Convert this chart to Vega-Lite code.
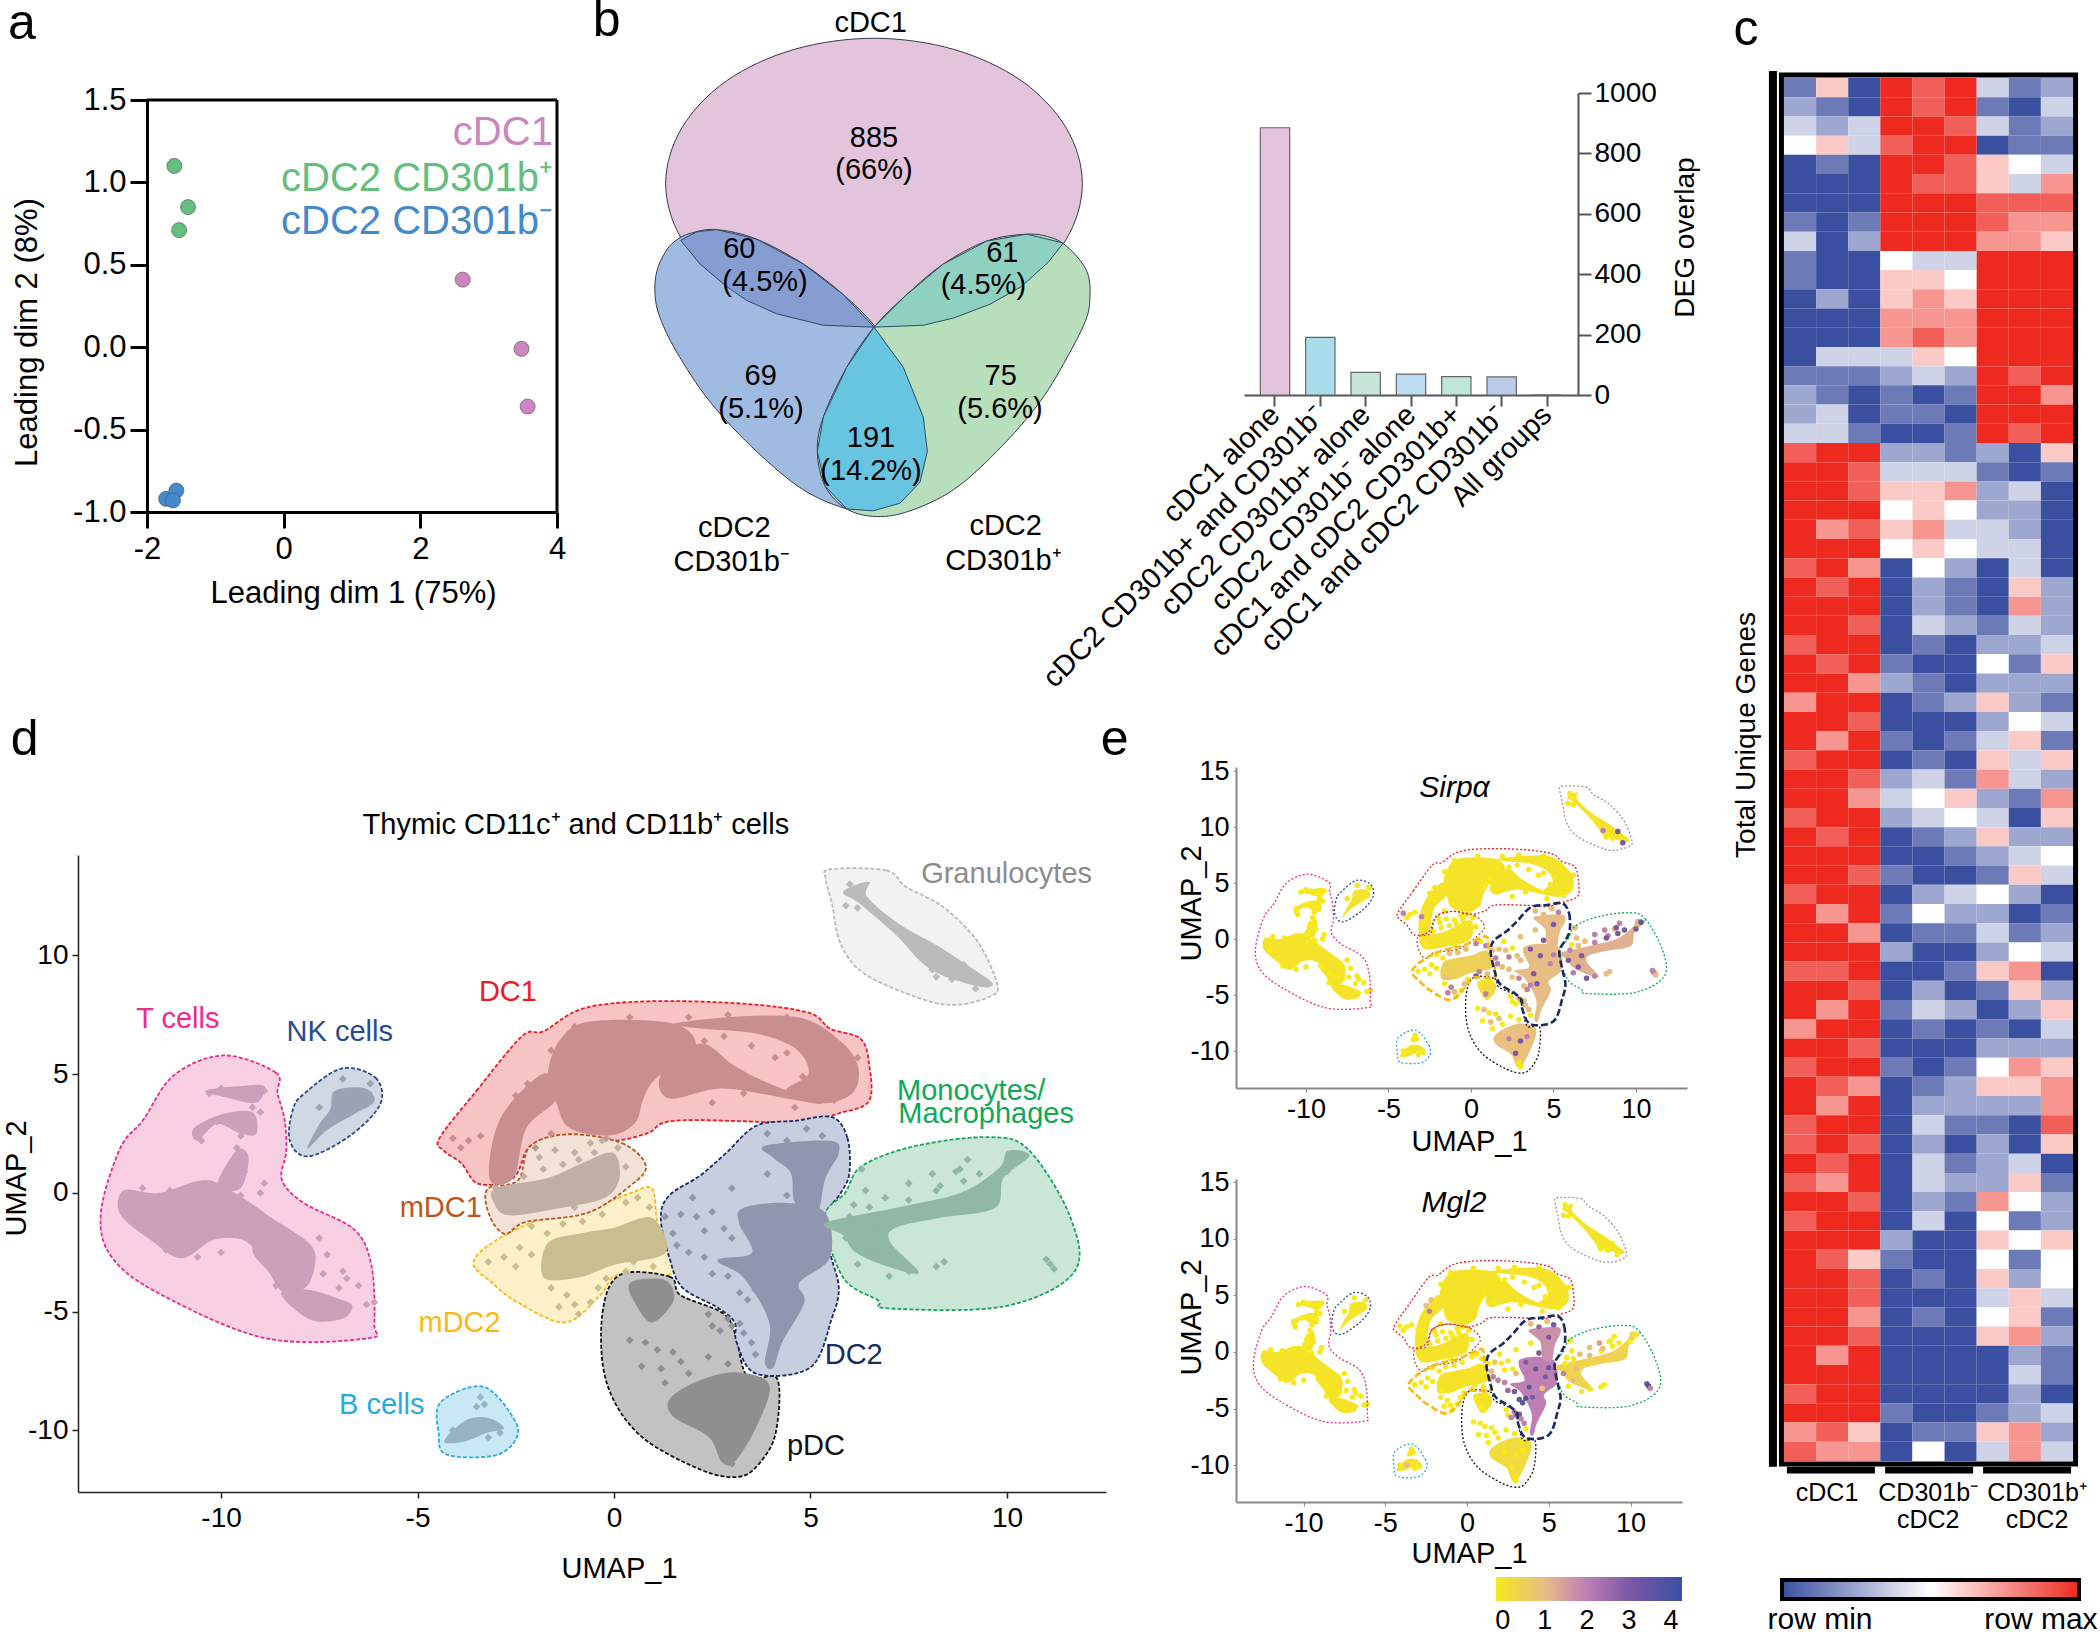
{"$schema":"https://vega.github.io/schema/vega-lite/v6.json","width":2100,"height":1636,"padding":0,"autosize":{"type":"none"},"background":"white",
"config":{"font":"Liberation Sans","view":{"stroke":null},"axis":{"grid":false,"labelFlush":false,"titleFontWeight":"normal","labelColor":"black","titleColor":"black","titleAlign":"center","titleBaseline":"middle"},"legend":{"labelFontWeight":"normal"}},
"datasets":{
"regions":[
{"c":"T","x":-9.93,"y":5.79},{"c":"T","x":-8.61,"y":5.07},{"c":"T","x":-8.56,"y":4.19},{"c":"T","x":-8.38,"y":3.08},{"c":"T","x":-8.34,"y":1.76},{"c":"T","x":-8.45,"y":0.55},{"c":"T","x":-7.88,"y":-0.44},{"c":"T","x":-6.61,"y":-1.54},{"c":"T","x":-6.17,"y":-3.08},{"c":"T","x":-6.1,"y":-5.51},{"c":"T","x":-6.27,"y":-6.12},{"c":"T","x":-8.86,"y":-6.12},{"c":"T","x":-11.5,"y":-4.3},{"c":"T","x":-12.76,"y":-2.75},{"c":"T","x":-13.06,"y":-0.88},{"c":"T","x":-12.57,"y":1.87},{"c":"T","x":-11.98,"y":3.08},{"c":"T","x":-11.2,"y":4.96},
{"c":"NK","x":-6.93,"y":5.24},{"c":"NK","x":-6.07,"y":4.85},{"c":"NK","x":-5.95,"y":3.74},{"c":"NK","x":-6.71,"y":2.42},{"c":"NK","x":-7.78,"y":1.54},{"c":"NK","x":-8.25,"y":2.2},{"c":"NK","x":-8.17,"y":3.52},{"c":"NK","x":-7.88,"y":4.19},
{"c":"DC1","x":-4.44,"y":2.31},{"c":"DC1","x":-3.5,"y":4.3},{"c":"DC1","x":-2.34,"y":6.6},{"c":"DC1","x":-1.79,"y":6.81},{"c":"DC1","x":-0.8,"y":7.76},{"c":"DC1","x":0.86,"y":8.07},{"c":"DC1","x":3.29,"y":7.97},{"c":"DC1","x":4.95,"y":7.59},{"c":"DC1","x":5.5,"y":6.92},{"c":"DC1","x":6.27,"y":6.5},{"c":"DC1","x":6.49,"y":5.45},{"c":"DC1","x":6.49,"y":3.88},{"c":"DC1","x":5.72,"y":3.35},{"c":"DC1","x":4.61,"y":2.89},{"c":"DC1","x":3.95,"y":2.98},{"c":"DC1","x":1.52,"y":3.04},{"c":"DC1","x":0.86,"y":2.52},{"c":"DC1","x":-0.02,"y":2.2},{"c":"DC1","x":-1.13,"y":2.47},{"c":"DC1","x":-2.12,"y":1.99},{"c":"DC1","x":-2.56,"y":0.63},{"c":"DC1","x":-3.44,"y":0.38},{"c":"DC1","x":-3.89,"y":1.26},{"c":"DC1","x":-4.33,"y":1.78},
{"c":"mDC2","x":0.97,"y":0.17},{"c":"mDC2","x":1.11,"y":-1.26},{"c":"mDC2","x":1.47,"y":-2.73},{"c":"mDC2","x":1.36,"y":-3.46},{"c":"mDC2","x":0.09,"y":-3.46},{"c":"mDC2","x":-0.35,"y":-4.3},{"c":"mDC2","x":-1.24,"y":-5.45},{"c":"mDC2","x":-2.45,"y":-4.61},{"c":"mDC2","x":-3.11,"y":-3.77},{"c":"mDC2","x":-3.58,"y":-2.94},{"c":"mDC2","x":-3,"y":-1.99},{"c":"mDC2","x":-1.79,"y":-1.05},{"c":"mDC2","x":-0.57,"y":-0.63},{"c":"mDC2","x":0.42,"y":0},
{"c":"mDC1","x":-1.13,"y":2.47},{"c":"mDC1","x":0.2,"y":2.1},{"c":"mDC1","x":0.81,"y":1.15},{"c":"mDC1","x":0.42,"y":0.31},{"c":"mDC1","x":-0.68,"y":-0.84},{"c":"mDC1","x":-2.23,"y":-1.22},{"c":"mDC1","x":-2.78,"y":-1.72},{"c":"mDC1","x":-3.17,"y":-0.94},{"c":"mDC1","x":-3.22,"y":0.17},{"c":"mDC1","x":-2.45,"y":0.52},{"c":"mDC1","x":-2.12,"y":1.99},
{"c":"pDC","x":0.14,"y":-3.46},{"c":"pDC","x":1.41,"y":-3.52},{"c":"pDC","x":1.69,"y":-4.3},{"c":"pDC","x":2.74,"y":-5.03},{"c":"pDC","x":3.07,"y":-5.87},{"c":"pDC","x":3.4,"y":-7.76},{"c":"pDC","x":4.15,"y":-7.82},{"c":"pDC","x":4.12,"y":-10.06},{"c":"pDC","x":3.73,"y":-11.32},{"c":"pDC","x":3.18,"y":-11.95},{"c":"pDC","x":2.19,"y":-11.64},{"c":"pDC","x":0.64,"y":-10.17},{"c":"pDC","x":-0.19,"y":-7.97},{"c":"pDC","x":-0.3,"y":-5.14},
{"c":"DC2","x":5.55,"y":3.19},{"c":"DC2","x":5.94,"y":2.31},{"c":"DC2","x":5.99,"y":0.84},{"c":"DC2","x":5.77,"y":0},{"c":"DC2","x":5.36,"y":-1.05},{"c":"DC2","x":5.5,"y":-2.52},{"c":"DC2","x":5.72,"y":-3.98},{"c":"DC2","x":5.55,"y":-5.24},{"c":"DC2","x":5,"y":-7.34},{"c":"DC2","x":3.62,"y":-7.61},{"c":"DC2","x":3.12,"y":-6.29},{"c":"DC2","x":3.07,"y":-5.45},{"c":"DC2","x":2.63,"y":-4.82},{"c":"DC2","x":1.74,"y":-3.98},{"c":"DC2","x":1.41,"y":-2.73},{"c":"DC2","x":1.19,"y":-1.05},{"c":"DC2","x":1.41,"y":-0.1},{"c":"DC2","x":2.19,"y":0.73},{"c":"DC2","x":2.85,"y":1.68},{"c":"DC2","x":3.62,"y":2.83},{"c":"DC2","x":4.61,"y":3.04},
{"c":"Mono","x":9.58,"y":2.35},{"c":"Mono","x":10.57,"y":1.78},{"c":"Mono","x":11.62,"y":-1.05},{"c":"Mono","x":11.7,"y":-3.35},{"c":"Mono","x":9.91,"y":-4.78},{"c":"Mono","x":6.99,"y":-4.86},{"c":"Mono","x":6.71,"y":-4.51},{"c":"Mono","x":5.83,"y":-3.56},{"c":"Mono","x":5.36,"y":-1.05},{"c":"Mono","x":5.88,"y":0},{"c":"Mono","x":6.32,"y":1.15},{"c":"Mono","x":7.7,"y":1.99},
{"c":"Gran","x":5.5,"y":13.63},{"c":"Gran","x":6.93,"y":13.58},{"c":"Gran","x":7.43,"y":12.89},{"c":"Gran","x":8.37,"y":12.05},{"c":"Gran","x":9.25,"y":10.59},{"c":"Gran","x":9.75,"y":8.81},{"c":"Gran","x":9.58,"y":8.28},{"c":"Gran","x":8.7,"y":7.92},{"c":"Gran","x":7.81,"y":8.18},{"c":"Gran","x":6.38,"y":9.22},{"c":"Gran","x":5.77,"y":10.48},{"c":"Gran","x":5.55,"y":12.16},{"c":"Gran","x":5.39,"y":13.2},
{"c":"B","x":-3.34,"y":-8.15},{"c":"B","x":-2.56,"y":-9.47},{"c":"B","x":-2.49,"y":-10.35},{"c":"B","x":-3.05,"y":-11.06},{"c":"B","x":-4.27,"y":-11.01},{"c":"B","x":-4.46,"y":-10.13},{"c":"B","x":-4.41,"y":-8.81}],
"core":[
{"p":"T1","c":"T","s":0,"m":0,"x":-12.47,"y":0.11},{"p":"T1","c":"T","x":-11.59,"y":0},{"p":"T1","c":"T","x":-10.42,"y":0.55},{"p":"T1","c":"T","x":-9.64,"y":0},{"p":"T1","c":"T","x":-8.86,"y":-0.88},{"p":"T1","c":"T","x":-8.17,"y":-1.76},{"p":"T1","c":"T","x":-8.42,"y":-2.53},{"p":"T1","c":"T","x":-8.86,"y":-2.75},{"p":"T1","c":"T","x":-9.44,"y":-1.98},{"p":"T1","c":"T","x":-10.2,"y":-1.98},{"p":"T1","c":"T","x":-11,"y":-2.75},{"p":"T1","c":"T","x":-11.79,"y":-1.98},{"p":"T1","c":"T","x":-12.57,"y":-0.88},
{"p":"T2","c":"T","s":0,"m":0,"x":-8.47,"y":-4.19},{"p":"T2","c":"T","x":-7.78,"y":-4.07},{"p":"T2","c":"T","x":-7.1,"y":-4.4},{"p":"T2","c":"T","x":-6.66,"y":-4.74},{"p":"T2","c":"T","x":-6.9,"y":-5.29},{"p":"T2","c":"T","x":-7.59,"y":-5.4},{"p":"T2","c":"T","x":-8.08,"y":-4.96},
{"p":"T3","c":"T","s":0,"m":0,"x":-9,"y":-1},{"p":"T3","c":"T","x":-8,"y":-1.8},{"p":"T3","c":"T","x":-7.6,"y":-2.6},{"p":"T3","c":"T","x":-7.8,"y":-3.9},{"p":"T3","c":"T","x":-8.4,"y":-4.2},{"p":"T3","c":"T","x":-8.8,"y":-3.3},{"p":"T3","c":"T","x":-9.2,"y":-2.4},
{"p":"T4","c":"T","s":0,"m":0,"x":-10.1,"y":0.3},{"p":"T4","c":"T","x":-9.6,"y":1.8},{"p":"T4","c":"T","x":-9.3,"y":1.5},{"p":"T4","c":"T","x":-9.5,"y":0.2},
{"p":"T5","c":"T","s":0,"m":0,"x":-10.7,"y":2.7},{"p":"T5","c":"T","x":-10,"y":3.3},{"p":"T5","c":"T","x":-9.2,"y":3.4},{"p":"T5","c":"T","x":-9.1,"y":2.5},{"p":"T5","c":"T","x":-9.5,"y":2.5},{"p":"T5","c":"T","x":-10.1,"y":2.9},{"p":"T5","c":"T","x":-10.6,"y":2.2},
{"p":"T6","c":"T","s":0,"m":0,"x":-10.4,"y":4.3},{"p":"T6","c":"T","x":-9.5,"y":4.5},{"p":"T6","c":"T","x":-8.9,"y":4.5},{"p":"T6","c":"T","x":-9.1,"y":3.8},{"p":"T6","c":"T","x":-9.8,"y":4},
{"p":"D1","c":"DC1","s":0,"m":0,"x":-0.57,"y":7.23},{"p":"D1","c":"DC1","x":1.52,"y":7.13},{"p":"D1","c":"DC1","x":2.07,"y":6.08},{"p":"D1","c":"DC1","x":1.07,"y":4.82},{"p":"D1","c":"DC1","x":0.75,"y":3.98},{"p":"D1","c":"DC1","x":0.53,"y":2.94},{"p":"D1","c":"DC1","x":-0.13,"y":2.42},{"p":"D1","c":"DC1","x":-1.13,"y":2.74},{"p":"D1","c":"DC1","x":-1.46,"y":3.77},{"p":"D1","c":"DC1","x":-1.68,"y":5.03},{"p":"D1","c":"DC1","x":-1.35,"y":6.5},
{"p":"D2","c":"DC1","s":0,"m":0,"x":1.52,"y":7.13},{"p":"D2","c":"DC1","x":3.29,"y":7.44},{"p":"D2","c":"DC1","x":4.84,"y":7.34},{"p":"D2","c":"DC1","x":5.83,"y":6.29},{"p":"D2","c":"DC1","x":6.22,"y":5.24},{"p":"D2","c":"DC1","x":6.06,"y":4.19},{"p":"D2","c":"DC1","x":5.28,"y":3.77},{"p":"D2","c":"DC1","x":4.39,"y":4.3},{"p":"D2","c":"DC1","x":4.95,"y":5.03},{"p":"D2","c":"DC1","x":4.62,"y":6.08},{"p":"D2","c":"DC1","x":3.62,"y":6.71},{"p":"D2","c":"DC1","x":2.19,"y":6.92},
{"p":"D3","c":"DC1","s":0,"m":0,"x":2.19,"y":6.29},{"p":"D3","c":"DC1","x":3.07,"y":5.35},{"p":"D3","c":"DC1","x":3.95,"y":4.61},{"p":"D3","c":"DC1","x":5.28,"y":3.77},{"p":"D3","c":"DC1","x":4.39,"y":3.98},{"p":"D3","c":"DC1","x":2.74,"y":4.4},{"p":"D3","c":"DC1","x":1.41,"y":3.98},{"p":"D3","c":"DC1","x":1.2,"y":5},
{"p":"D4","c":"DC1","s":0,"m":0,"x":-1.79,"y":5.03},{"p":"D4","c":"DC1","x":-2.89,"y":3.14},{"p":"D4","c":"DC1","x":-3.17,"y":0.63},{"p":"D4","c":"DC1","x":-2.56,"y":0.63},{"p":"D4","c":"DC1","x":-2.23,"y":2.73},{"p":"D4","c":"DC1","x":-1.46,"y":3.98},
{"p":"M1","c":"mDC1","s":0,"m":0,"x":-3,"y":0.21},{"p":"M1","c":"mDC1","x":-1.68,"y":0.63},{"p":"M1","c":"mDC1","x":-0.8,"y":1.26},{"p":"M1","c":"mDC1","x":-0.02,"y":1.68},{"p":"M1","c":"mDC1","x":0.14,"y":0.63},{"p":"M1","c":"mDC1","x":-0.24,"y":-0.21},{"p":"M1","c":"mDC1","x":-1.35,"y":-0.63},{"p":"M1","c":"mDC1","x":-2.67,"y":-0.94},{"p":"M1","c":"mDC1","x":-3.05,"y":-0.42},
{"p":"M2","c":"mDC2","s":0.5,"m":0,"x":-0.02,"y":-1.47},{"p":"M2","c":"mDC2","x":0.97,"y":-1.05},{"p":"M2","c":"mDC2","x":1.31,"y":-2.52},{"p":"M2","c":"mDC2","x":-0.02,"y":-3.04},{"p":"M2","c":"mDC2","x":-0.9,"y":-3.56},{"p":"M2","c":"mDC2","x":-1.79,"y":-3.56},{"p":"M2","c":"mDC2","x":-1.68,"y":-2.1},{"p":"M2","c":"mDC2","x":-0.8,"y":-1.68},
{"p":"C1","c":"DC2","s":1,"m":2,"x":3.29,"y":-0.63},{"p":"C1","c":"DC2","x":4.39,"y":-0.42},{"p":"C1","c":"DC2","x":5.38,"y":-0.84},{"p":"C1","c":"DC2","x":5.49,"y":-2.73},{"p":"C1","c":"DC2","x":4.72,"y":-3.77},{"p":"C1","c":"DC2","x":4.84,"y":-4.61},{"p":"C1","c":"DC2","x":4.28,"y":-6.29},{"p":"C1","c":"DC2","x":4.06,"y":-7.34},{"p":"C1","c":"DC2","x":3.84,"y":-7.13},{"p":"C1","c":"DC2","x":3.95,"y":-5.45},{"p":"C1","c":"DC2","x":3.29,"y":-3.56},{"p":"C1","c":"DC2","x":2.63,"y":-2.83},{"p":"C1","c":"DC2","x":3.51,"y":-2.52},{"p":"C1","c":"DC2","x":3.18,"y":-1.26},
{"p":"C2","c":"DC2","s":1,"m":1.7,"x":3.84,"y":1.99},{"p":"C2","c":"DC2","x":5.49,"y":2.2},{"p":"C2","c":"DC2","x":5.72,"y":1.68},{"p":"C2","c":"DC2","x":5.38,"y":0.63},{"p":"C2","c":"DC2","x":5.16,"y":-0.84},{"p":"C2","c":"DC2","x":4.61,"y":-0.42},{"p":"C2","c":"DC2","x":4.5,"y":0.84},{"p":"C2","c":"DC2","x":4.06,"y":1.47},
{"p":"P1","c":"pDC","s":0.9,"m":0.2,"x":2.07,"y":-7.97},{"p":"P1","c":"pDC","x":3.07,"y":-7.55},{"p":"P1","c":"pDC","x":3.95,"y":-8.07},{"p":"P1","c":"pDC","x":3.62,"y":-9.85},{"p":"P1","c":"pDC","x":3.07,"y":-11.32},{"p":"P1","c":"pDC","x":2.74,"y":-11.32},{"p":"P1","c":"pDC","x":2.41,"y":-10.27},{"p":"P1","c":"pDC","x":1.52,"y":-9.43},{"p":"P1","c":"pDC","x":1.41,"y":-8.7},
{"p":"P2","c":"pDC","s":0.2,"m":0,"x":0.42,"y":-3.77},{"p":"P2","c":"pDC","x":1.3,"y":-3.67},{"p":"P2","c":"pDC","x":1.52,"y":-4.51},{"p":"P2","c":"pDC","x":0.97,"y":-5.45},{"p":"P2","c":"pDC","x":0.53,"y":-4.61},
{"p":"O1","c":"Mono","s":1.2,"m":0.4,"x":5.39,"y":-1.26},{"p":"O1","c":"Mono","x":7.15,"y":-0.63},{"p":"O1","c":"Mono","x":8.81,"y":0},{"p":"O1","c":"Mono","x":9.8,"y":1.05},{"p":"O1","c":"Mono","x":10.02,"y":1.78},{"p":"O1","c":"Mono","x":10.57,"y":1.57},{"p":"O1","c":"Mono","x":9.91,"y":0.63},{"p":"O1","c":"Mono","x":9.69,"y":-0.63},{"p":"O1","c":"Mono","x":8.26,"y":-1.05},{"p":"O1","c":"Mono","x":7.15,"y":-1.47},{"p":"O1","c":"Mono","x":7.04,"y":-2.1},{"p":"O1","c":"Mono","x":7.76,"y":-3.35},{"p":"O1","c":"Mono","x":7.04,"y":-3.14},{"p":"O1","c":"Mono","x":6.16,"y":-2.52},{"p":"O1","c":"Mono","x":5.83,"y":-1.78},
{"p":"G1","c":"Gran","s":0,"m":0,"x":5.83,"y":12.68},{"p":"G1","c":"Gran","x":6.49,"y":13.1},{"p":"G1","c":"Gran","x":6.44,"y":12.47},{"p":"G1","c":"Gran","x":7.26,"y":11.32},{"p":"G1","c":"Gran","x":8.26,"y":10.38},{"p":"G1","c":"Gran","x":9.14,"y":9.43},{"p":"G1","c":"Gran","x":9.64,"y":8.81},{"p":"G1","c":"Gran","x":9.25,"y":8.7},{"p":"G1","c":"Gran","x":8.04,"y":9.43},{"p":"G1","c":"Gran","x":7.15,"y":10.9},{"p":"G1","c":"Gran","x":6.27,"y":12.16},
{"p":"N1","c":"NK","s":0,"m":0,"x":-7.1,"y":4.3},{"p":"N1","c":"NK","x":-6.34,"y":4.41},{"p":"N1","c":"NK","x":-6.1,"y":3.85},{"p":"N1","c":"NK","x":-6.63,"y":3.3},{"p":"N1","c":"NK","x":-7.31,"y":2.64},{"p":"N1","c":"NK","x":-7.8,"y":1.87},{"p":"N1","c":"NK","x":-7.51,"y":2.86},{"p":"N1","c":"NK","x":-7.22,"y":3.52},
{"p":"B1","c":"B","s":0,"m":0,"x":-4.32,"y":-10.46},{"p":"B1","c":"B","x":-3.78,"y":-9.58},{"p":"B1","c":"B","x":-3.19,"y":-9.47},{"p":"B1","c":"B","x":-2.8,"y":-9.91},{"p":"B1","c":"B","x":-3.29,"y":-10.13},{"p":"B1","c":"B","x":-3.78,"y":-10.46}],
"cells":[
{"c":"T","x":-10.3,"y":4.2},{"c":"T","x":-10,"y":4.4},{"c":"T","x":-9.7,"y":4.3},{"c":"T","x":-9.4,"y":4.1},{"c":"T","x":-9.1,"y":4},{"c":"T","x":-8.9,"y":4.3},{"c":"T","x":-9.2,"y":3.6},{"c":"T","x":-9,"y":3.4},{"c":"T","x":-9.8,"y":3.1},{"c":"T","x":-10.1,"y":3},{"c":"T","x":-9.5,"y":3},{"c":"T","x":-9.2,"y":2.9},{"c":"T","x":-10.6,"y":2.7},{"c":"T","x":-10.5,"y":2.2},{"c":"T","x":-9.5,"y":2.4},{"c":"T","x":-9.6,"y":1.9},{"c":"T","x":-9.7,"y":1.4},{"c":"T","x":-9.8,"y":1.1},{"c":"T","x":-9.9,"y":0.7},{"c":"T","x":-10,"y":0.4},{"c":"T","x":-9.4,"y":0.9},{"c":"T","x":-8.9,"y":0.4},{"c":"T","x":-9,"y":0},{"c":"T","x":-9.5,"y":-0.1},{"c":"T","x":-12,"y":0.2},{"c":"T","x":-11.3,"y":0.1},{"c":"T","x":-10.6,"y":0.3},{"c":"T","x":-9.9,"y":-0.3},{"c":"T","x":-12.2,"y":-1},{"c":"T","x":-11.4,"y":-2.4},{"c":"T","x":-10.6,"y":-2.7},{"c":"T","x":-10,"y":-2.5},{"c":"T","x":-9.1,"y":-2.4},{"c":"T","x":-8.6,"y":-3},{"c":"T","x":-8.2,"y":-3.3},{"c":"T","x":-7.9,"y":-2.2},{"c":"T","x":-7.5,"y":-1.9},{"c":"T","x":-7.3,"y":-2.6},{"c":"T","x":-7.8,"y":-3.6},{"c":"T","x":-7.4,"y":-3.4},{"c":"T","x":-6.9,"y":-3.3},{"c":"T","x":-6.5,"y":-3.9},{"c":"T","x":-7,"y":-4},{"c":"T","x":-6.8,"y":-3.6},{"c":"T","x":-6.3,"y":-4.7},{"c":"T","x":-6.1,"y":-4.6},{"c":"T","x":-8.6,"y":-3.9},
{"c":"NK","x":-7.5,"y":3.6},{"c":"NK","x":-6.9,"y":4.8},{"c":"NK","x":-6.2,"y":4.6},
{"c":"B","x":-3.4,"y":-8.6},{"c":"B","x":-3.5,"y":-9},{"c":"B","x":-3.3,"y":-8.9},{"c":"B","x":-4.1,"y":-10},{"c":"B","x":-2.9,"y":-10.1},{"c":"B","x":-3.7,"y":-10,"m":1},{"c":"B","x":-3.2,"y":-10.3},
{"c":"DC1","x":-4.1,"y":2.3,"s":2},{"c":"DC1","x":-3.7,"y":2.2},{"c":"DC1","x":-3.9,"y":1.9},{"c":"DC1","x":-3.4,"y":2.4},{"c":"DC1","x":-3,"y":2,"s":2},{"c":"DC1","x":-2.7,"y":1.9},{"c":"DC1","x":-2.9,"y":1.4},{"c":"DC1","x":-2.5,"y":4.1,"m":1},{"c":"DC1","x":-2.2,"y":4.6,"m":1},{"c":"DC1","x":-1.6,"y":2.5},{"c":"DC1","x":-2,"y":1.9},{"c":"DC1","x":-1.2,"y":3.2},{"c":"DC1","x":-0.2,"y":2.3},{"c":"DC1","x":1.6,"y":6.3},{"c":"DC1","x":2.3,"y":6.4},{"c":"DC1","x":2.8,"y":6.6},{"c":"DC1","x":3.5,"y":6.2},{"c":"DC1","x":4.1,"y":5.7},{"c":"DC1","x":4.4,"y":5.9},{"c":"DC1","x":4.8,"y":4.9},{"c":"DC1","x":5.1,"y":5.6},{"c":"DC1","x":2.5,"y":3.8},{"c":"DC1","x":3.3,"y":4.2},{"c":"DC1","x":4.6,"y":3.6},{"c":"DC1","x":1.1,"y":5.4},{"c":"DC1","x":0.8,"y":4.6},{"c":"DC1","x":1.6,"y":4.5},{"c":"DC1","x":5.6,"y":3.9},{"c":"DC1","x":5.9,"y":4.6},{"c":"DC1","x":6.2,"y":5.7},{"c":"DC1","x":5.4,"y":6.6},{"c":"DC1","x":4.4,"y":7.4},{"c":"DC1","x":2.9,"y":7.5},{"c":"DC1","x":1.9,"y":7.4},{"c":"DC1","x":0.4,"y":7.4},{"c":"DC1","x":-1,"y":7},{"c":"DC1","x":-1.6,"y":6},{"c":"DC1","x":-2.3,"y":3.6,"m":2},
{"c":"mDC1","x":-1.9,"y":1.5},{"c":"mDC1","x":-1.5,"y":1.8},{"c":"mDC1","x":-1,"y":1.7},{"c":"mDC1","x":-0.6,"y":2.1},{"c":"mDC1","x":-0.3,"y":2.2},{"c":"mDC1","x":0.1,"y":1.9},{"c":"mDC1","x":-1.3,"y":1.2},{"c":"mDC1","x":-0.9,"y":1.4},{"c":"mDC1","x":-0.5,"y":1.7},{"c":"mDC1","x":-1.8,"y":1},{"c":"mDC1","x":-2.3,"y":0.7},{"c":"mDC1","x":0.3,"y":1.1},{"c":"mDC1","x":-2.8,"y":-0.4},{"c":"mDC1","x":-3,"y":0.2},{"c":"mDC1","x":-1,"y":-0.6},
{"c":"mDC2","x":-3.2,"y":-2.9},{"c":"mDC2","x":-2.8,"y":-2.7},{"c":"mDC2","x":-2.4,"y":-2.3},{"c":"mDC2","x":-2.1,"y":-2.6},{"c":"mDC2","x":-1.7,"y":-1.7},{"c":"mDC2","x":-2.1,"y":-1.4},{"c":"mDC2","x":-1.3,"y":-1.3,"s":1},{"c":"mDC2","x":-0.8,"y":-1.2,"s":1},{"c":"mDC2","x":-0.3,"y":-0.9,"s":1},{"c":"mDC2","x":0.3,"y":-0.4,"s":2},{"c":"mDC2","x":0.6,"y":-0.2},{"c":"mDC2","x":0.9,"y":-0.6,"s":2},{"c":"mDC2","x":-1.5,"y":-3.4,"s":1},{"c":"mDC2","x":-1.6,"y":-4},{"c":"mDC2","x":-1.2,"y":-4.3,"s":2},{"c":"mDC2","x":-1,"y":-4.7,"s":1},{"c":"mDC2","x":-0.9,"y":-5.1},{"c":"mDC2","x":-1.4,"y":-4.8,"s":2},{"c":"mDC2","x":-0.6,"y":-4.6},{"c":"mDC2","x":-0.4,"y":-4,"s":1},{"c":"mDC2","x":-0.2,"y":-3.6},{"c":"mDC2","x":-2.5,"y":-3.1},{"c":"mDC2","x":0.5,"y":-2.9,"s":2},{"c":"mDC2","x":1,"y":-3.1,"s":1},{"c":"mDC2","x":0.3,"y":-3.3,"s":3},
{"c":"DC2","x":1.3,"y":-1,"s":1},{"c":"DC2","x":1.7,"y":-0.9,"s":1,"m":0.5},{"c":"DC2","x":2.1,"y":-1,"s":1},{"c":"DC2","x":2.5,"y":-0.8},{"c":"DC2","x":1.5,"y":-1.7,"s":2,"m":1},{"c":"DC2","x":1.9,"y":-2.5,"s":1,"m":2},{"c":"DC2","x":2.3,"y":-2.7,"s":1,"m":2},{"c":"DC2","x":1.6,"y":-2.2,"s":2,"m":2},{"c":"DC2","x":2.8,"y":-1.5,"s":1},{"c":"DC2","x":3,"y":-1.9,"s":1,"m":1},{"c":"DC2","x":2.3,"y":-1.6,"s":2},{"c":"DC2","x":2.5,"y":-3.4,"s":1,"m":2.5},{"c":"DC2","x":2.9,"y":-3.5,"s":2,"m":3},{"c":"DC2","x":3.2,"y":-4.2,"s":1,"m":3.5},{"c":"DC2","x":3.4,"y":-4.5,"s":2,"m":3.5},{"c":"DC2","x":3.2,"y":-5.5,"s":1,"m":3},{"c":"DC2","x":3.5,"y":-6.3,"s":1,"m":2},{"c":"DC2","x":3.3,"y":-5.9,"s":1,"m":2},{"c":"DC2","x":3.6,"y":-6.8},{"c":"DC2","x":4,"y":-4,"s":3,"m":3},{"c":"DC2","x":4.6,"y":-3.2,"s":1,"m":1},{"c":"DC2","x":4.8,"y":-2.2,"s":2,"m":3},{"c":"DC2","x":3.9,"y":2.5,"s":1,"m":1},{"c":"DC2","x":4.4,"y":2.2,"s":1,"m":2.5},{"c":"DC2","x":4.9,"y":2.7,"s":1,"m":1},{"c":"DC2","x":5.3,"y":2.4,"s":2,"m":3},{"c":"DC2","x":5,"y":1.3,"s":3,"m":3},{"c":"DC2","x":3.9,"y":0.8,"s":1},{"c":"DC2","x":4.4,"y":-0.1,"s":3,"m":3},{"c":"DC2","x":3.6,"y":-0.9,"s":3,"m":3},{"c":"DC2","x":2,"y":-0.2},{"c":"DC2","x":3,"y":0.2,"s":1},{"c":"DC2","x":4.2,"y":-1.5,"s":3,"m":3.5},{"c":"DC2","x":5,"y":-1.4,"s":2,"m":3.5},{"c":"DC2","x":3.8,"y":-3.1,"s":3,"m":3.5},{"c":"DC2","x":3.6,"y":-4.1,"s":2,"m":3.8},
{"c":"pDC","x":0.6,"y":-4},{"c":"pDC","x":1.2,"y":-3.8},{"c":"pDC","x":0.9,"y":-4.9,"s":2},{"c":"pDC","x":2.4,"y":-5.1},{"c":"pDC","x":2.5,"y":-5.6},{"c":"pDC","x":2.7,"y":-5.8,"m":2},{"c":"pDC","x":2.9,"y":-5.3,"s":1,"m":2},{"c":"pDC","x":3,"y":-5.6,"m":2},{"c":"pDC","x":0.4,"y":-6.2},{"c":"pDC","x":0.8,"y":-6.3,"s":1},{"c":"pDC","x":1.1,"y":-6.6},{"c":"pDC","x":1.5,"y":-6.7},{"c":"pDC","x":1.7,"y":-7.1,"s":1},{"c":"pDC","x":1.9,"y":-7.6},{"c":"pDC","x":1.2,"y":-7.4,"s":1},{"c":"pDC","x":0.7,"y":-7.3},{"c":"pDC","x":2.4,"y":-6.9},{"c":"pDC","x":2.9,"y":-7.2},{"c":"pDC","x":3.4,"y":-7.9,"s":1},{"c":"pDC","x":2.9,"y":-11},{"c":"pDC","x":3,"y":-11.4},{"c":"pDC","x":1.3,"y":-8},{"c":"pDC","x":2.3,"y":-8.9,"s":2},{"c":"pDC","x":3,"y":-9.1,"s":3},{"c":"pDC","x":2.7,"y":-10.2,"s":3},{"c":"pDC","x":3.4,"y":-8.7,"s":2},
{"c":"Mono","x":6.3,"y":1,"s":1},{"c":"Mono","x":6.4,"y":0.1,"s":1},{"c":"Mono","x":6.1,"y":-0.5},{"c":"Mono","x":6,"y":-1,"s":2},{"c":"Mono","x":6.5,"y":-0.6,"s":1},{"c":"Mono","x":6.9,"y":-0.2,"s":1,"m":1},{"c":"Mono","x":7.5,"y":0.4,"s":2,"m":1},{"c":"Mono","x":8.1,"y":0.8,"s":2,"m":1.5},{"c":"Mono","x":8.3,"y":0.3,"s":2,"m":1},{"c":"Mono","x":8.7,"y":0.9,"s":1},{"c":"Mono","x":8.9,"y":0.5,"s":3},{"c":"Mono","x":9,"y":1.4,"s":2},{"c":"Mono","x":8.2,"y":0.1,"s":3},{"c":"Mono","x":9.3,"y":0.8,"s":3},{"c":"Mono","x":7.5,"y":-0.3,"s":2,"m":1},{"c":"Mono","x":10.3,"y":1.5,"s":3.5},{"c":"Mono","x":10,"y":0.9,"s":3},{"c":"Mono","x":8.2,"y":-3.1,"s":1},{"c":"Mono","x":8.4,"y":-2.9,"s":1},{"c":"Mono","x":11,"y":-2.8,"s":2,"m":3},{"c":"Mono","x":11.1,"y":-3,"s":2,"m":4},{"c":"Mono","x":11.2,"y":-3.2,"s":1,"m":2},{"c":"Mono","x":6.5,"y":-2.5,"s":3,"m":1},{"c":"Mono","x":6.2,"y":-3,"s":2},{"c":"Mono","x":7,"y":-3.5,"s":3},{"c":"Mono","x":7.5,"y":-3.3,"s":2},{"c":"Mono","x":8.8,"y":1,"s":3},{"c":"Mono","x":5.9,"y":-1.9,"s":3,"m":2},{"c":"Mono","x":6.7,"y":-1.5,"s":3,"m":1},
{"c":"Gran","x":6,"y":13},{"c":"Gran","x":5.9,"y":12.1},{"c":"Gran","x":6.2,"y":12},{"c":"Gran","x":8,"y":9.7,"s":2},{"c":"Gran","x":8.2,"y":9.1},{"c":"Gran","x":8.4,"y":9.3},{"c":"Gran","x":8.6,"y":9},{"c":"Gran","x":8.1,"y":9.4},{"c":"Gran","x":8.9,"y":9.6,"s":3},{"c":"Gran","x":9.2,"y":8.6,"s":3}],
"heat":[
{"r":0,"c":0,"v":-1.5},{"r":0,"c":1,"v":0.5},{"r":0,"c":2,"v":-2},{"r":0,"c":3,"v":2},{"r":0,"c":4,"v":1.5},{"r":0,"c":5,"v":2},{"r":0,"c":6,"v":-0.5},{"r":0,"c":7,"v":-1.5},{"r":0,"c":8,"v":-1},
{"r":1,"c":0,"v":-1},{"r":1,"c":1,"v":-1.5},{"r":1,"c":2,"v":-2},{"r":1,"c":3,"v":2},{"r":1,"c":4,"v":1.5},{"r":1,"c":5,"v":2},{"r":1,"c":6,"v":-1.5},{"r":1,"c":7,"v":-2},{"r":1,"c":8,"v":-0.5},
{"r":2,"c":0,"v":-0.5},{"r":2,"c":1,"v":-1},{"r":2,"c":2,"v":-0.5},{"r":2,"c":3,"v":2},{"r":2,"c":4,"v":2},{"r":2,"c":5,"v":1.5},{"r":2,"c":6,"v":-0.5},{"r":2,"c":7,"v":-1.5},{"r":2,"c":8,"v":-1},
{"r":3,"c":0,"v":0},{"r":3,"c":1,"v":0.5},{"r":3,"c":2,"v":-0.5},{"r":3,"c":3,"v":1.5},{"r":3,"c":4,"v":2},{"r":3,"c":5,"v":2},{"r":3,"c":6,"v":-2},{"r":3,"c":7,"v":-1.5},{"r":3,"c":8,"v":-1.5},
{"r":4,"c":0,"v":-2},{"r":4,"c":1,"v":-1.5},{"r":4,"c":2,"v":-2},{"r":4,"c":3,"v":2},{"r":4,"c":4,"v":2},{"r":4,"c":5,"v":1.5},{"r":4,"c":6,"v":0.5},{"r":4,"c":7,"v":0},{"r":4,"c":8,"v":-0.5},
{"r":5,"c":0,"v":-2},{"r":5,"c":1,"v":-2},{"r":5,"c":2,"v":-2},{"r":5,"c":3,"v":2},{"r":5,"c":4,"v":1.5},{"r":5,"c":5,"v":1.5},{"r":5,"c":6,"v":0.5},{"r":5,"c":7,"v":-0.5},{"r":5,"c":8,"v":1},
{"r":6,"c":0,"v":-2},{"r":6,"c":1,"v":-2},{"r":6,"c":2,"v":-2},{"r":6,"c":3,"v":2},{"r":6,"c":4,"v":2},{"r":6,"c":5,"v":2},{"r":6,"c":6,"v":1.5},{"r":6,"c":7,"v":1.5},{"r":6,"c":8,"v":1.5},
{"r":7,"c":0,"v":-1.5},{"r":7,"c":1,"v":-2},{"r":7,"c":2,"v":-1.5},{"r":7,"c":3,"v":2},{"r":7,"c":4,"v":2},{"r":7,"c":5,"v":2},{"r":7,"c":6,"v":1.5},{"r":7,"c":7,"v":1},{"r":7,"c":8,"v":1},
{"r":8,"c":0,"v":-0.5},{"r":8,"c":1,"v":-2},{"r":8,"c":2,"v":-1},{"r":8,"c":3,"v":2},{"r":8,"c":4,"v":2},{"r":8,"c":5,"v":2},{"r":8,"c":6,"v":1},{"r":8,"c":7,"v":1},{"r":8,"c":8,"v":0.5},
{"r":9,"c":0,"v":-1.5},{"r":9,"c":1,"v":-2},{"r":9,"c":2,"v":-2},{"r":9,"c":3,"v":0},{"r":9,"c":4,"v":-0.5},{"r":9,"c":5,"v":-0.5},{"r":9,"c":6,"v":2},{"r":9,"c":7,"v":2},{"r":9,"c":8,"v":2},
{"r":10,"c":0,"v":-1.5},{"r":10,"c":1,"v":-2},{"r":10,"c":2,"v":-2},{"r":10,"c":3,"v":0.5},{"r":10,"c":4,"v":0.5},{"r":10,"c":5,"v":0},{"r":10,"c":6,"v":2},{"r":10,"c":7,"v":2},{"r":10,"c":8,"v":2},
{"r":11,"c":0,"v":-2},{"r":11,"c":1,"v":-1},{"r":11,"c":2,"v":-2},{"r":11,"c":3,"v":0.5},{"r":11,"c":4,"v":1},{"r":11,"c":5,"v":0.5},{"r":11,"c":6,"v":2},{"r":11,"c":7,"v":2},{"r":11,"c":8,"v":2},
{"r":12,"c":0,"v":-2},{"r":12,"c":1,"v":-2},{"r":12,"c":2,"v":-2},{"r":12,"c":3,"v":1},{"r":12,"c":4,"v":1},{"r":12,"c":5,"v":1},{"r":12,"c":6,"v":2},{"r":12,"c":7,"v":2},{"r":12,"c":8,"v":2},
{"r":13,"c":0,"v":-2},{"r":13,"c":1,"v":-2},{"r":13,"c":2,"v":-2},{"r":13,"c":3,"v":1},{"r":13,"c":4,"v":1.5},{"r":13,"c":5,"v":1},{"r":13,"c":6,"v":2},{"r":13,"c":7,"v":2},{"r":13,"c":8,"v":2},
{"r":14,"c":0,"v":-2},{"r":14,"c":1,"v":-0.5},{"r":14,"c":2,"v":-0.5},{"r":14,"c":3,"v":-0.5},{"r":14,"c":4,"v":0.5},{"r":14,"c":5,"v":0},{"r":14,"c":6,"v":2},{"r":14,"c":7,"v":2},{"r":14,"c":8,"v":2},
{"r":15,"c":0,"v":-1.5},{"r":15,"c":1,"v":-1.5},{"r":15,"c":2,"v":-1.5},{"r":15,"c":3,"v":-1},{"r":15,"c":4,"v":-0.5},{"r":15,"c":5,"v":-1},{"r":15,"c":6,"v":2},{"r":15,"c":7,"v":1.5},{"r":15,"c":8,"v":2},
{"r":16,"c":0,"v":-1},{"r":16,"c":1,"v":-1.5},{"r":16,"c":2,"v":-2},{"r":16,"c":3,"v":-1.5},{"r":16,"c":4,"v":-2},{"r":16,"c":5,"v":-1.5},{"r":16,"c":6,"v":2},{"r":16,"c":7,"v":2},{"r":16,"c":8,"v":1},
{"r":17,"c":0,"v":-1},{"r":17,"c":1,"v":-0.5},{"r":17,"c":2,"v":-2},{"r":17,"c":3,"v":-1.5},{"r":17,"c":4,"v":-1.5},{"r":17,"c":5,"v":-2},{"r":17,"c":6,"v":2},{"r":17,"c":7,"v":2},{"r":17,"c":8,"v":2},
{"r":18,"c":0,"v":-0.5},{"r":18,"c":1,"v":-0.5},{"r":18,"c":2,"v":-1.5},{"r":18,"c":3,"v":-2},{"r":18,"c":4,"v":-2},{"r":18,"c":5,"v":-1.5},{"r":18,"c":6,"v":2},{"r":18,"c":7,"v":1.5},{"r":18,"c":8,"v":2},
{"r":19,"c":0,"v":1.5},{"r":19,"c":1,"v":2},{"r":19,"c":2,"v":2},{"r":19,"c":3,"v":-1},{"r":19,"c":4,"v":-1},{"r":19,"c":5,"v":-1.5},{"r":19,"c":6,"v":-1},{"r":19,"c":7,"v":-2},{"r":19,"c":8,"v":0.5},
{"r":20,"c":0,"v":2},{"r":20,"c":1,"v":2},{"r":20,"c":2,"v":1.5},{"r":20,"c":3,"v":-0.5},{"r":20,"c":4,"v":-0.5},{"r":20,"c":5,"v":-0.5},{"r":20,"c":6,"v":-1.5},{"r":20,"c":7,"v":-2},{"r":20,"c":8,"v":-1.5},
{"r":21,"c":0,"v":2},{"r":21,"c":1,"v":2},{"r":21,"c":2,"v":1.5},{"r":21,"c":3,"v":0.5},{"r":21,"c":4,"v":0.5},{"r":21,"c":5,"v":1},{"r":21,"c":6,"v":-1},{"r":21,"c":7,"v":-0.5},{"r":21,"c":8,"v":-2},
{"r":22,"c":0,"v":2},{"r":22,"c":1,"v":2},{"r":22,"c":2,"v":2},{"r":22,"c":3,"v":0},{"r":22,"c":4,"v":0.5},{"r":22,"c":5,"v":0},{"r":22,"c":6,"v":-1},{"r":22,"c":7,"v":-1},{"r":22,"c":8,"v":-2},
{"r":23,"c":0,"v":2},{"r":23,"c":1,"v":1},{"r":23,"c":2,"v":1.5},{"r":23,"c":3,"v":0.5},{"r":23,"c":4,"v":1},{"r":23,"c":5,"v":-0.5},{"r":23,"c":6,"v":-0.5},{"r":23,"c":7,"v":-1},{"r":23,"c":8,"v":-2},
{"r":24,"c":0,"v":2},{"r":24,"c":1,"v":2},{"r":24,"c":2,"v":2},{"r":24,"c":3,"v":0},{"r":24,"c":4,"v":0.5},{"r":24,"c":5,"v":0},{"r":24,"c":6,"v":-0.5},{"r":24,"c":7,"v":-0.5},{"r":24,"c":8,"v":-2},
{"r":25,"c":0,"v":1.5},{"r":25,"c":1,"v":2},{"r":25,"c":2,"v":1},{"r":25,"c":3,"v":-2},{"r":25,"c":4,"v":0},{"r":25,"c":5,"v":-1},{"r":25,"c":6,"v":-2},{"r":25,"c":7,"v":-0.5},{"r":25,"c":8,"v":-2},
{"r":26,"c":0,"v":2},{"r":26,"c":1,"v":1.5},{"r":26,"c":2,"v":2},{"r":26,"c":3,"v":-2},{"r":26,"c":4,"v":-1},{"r":26,"c":5,"v":-1.5},{"r":26,"c":6,"v":-2},{"r":26,"c":7,"v":0.5},{"r":26,"c":8,"v":-1},
{"r":27,"c":0,"v":2},{"r":27,"c":1,"v":2},{"r":27,"c":2,"v":2},{"r":27,"c":3,"v":-2},{"r":27,"c":4,"v":-1},{"r":27,"c":5,"v":-1.5},{"r":27,"c":6,"v":-2},{"r":27,"c":7,"v":1},{"r":27,"c":8,"v":-1},
{"r":28,"c":0,"v":2},{"r":28,"c":1,"v":2},{"r":28,"c":2,"v":1.5},{"r":28,"c":3,"v":-2},{"r":28,"c":4,"v":-0.5},{"r":28,"c":5,"v":-1},{"r":28,"c":6,"v":-1.5},{"r":28,"c":7,"v":-0.5},{"r":28,"c":8,"v":-1},
{"r":29,"c":0,"v":1.5},{"r":29,"c":1,"v":2},{"r":29,"c":2,"v":2},{"r":29,"c":3,"v":-2},{"r":29,"c":4,"v":-1.5},{"r":29,"c":5,"v":-2},{"r":29,"c":6,"v":-1},{"r":29,"c":7,"v":-1},{"r":29,"c":8,"v":-0.5},
{"r":30,"c":0,"v":2},{"r":30,"c":1,"v":1.5},{"r":30,"c":2,"v":2},{"r":30,"c":3,"v":-1.5},{"r":30,"c":4,"v":-2},{"r":30,"c":5,"v":-2},{"r":30,"c":6,"v":0},{"r":30,"c":7,"v":-1.5},{"r":30,"c":8,"v":0.5},
{"r":31,"c":0,"v":2},{"r":31,"c":1,"v":2},{"r":31,"c":2,"v":1},{"r":31,"c":3,"v":-1},{"r":31,"c":4,"v":-1.5},{"r":31,"c":5,"v":-2},{"r":31,"c":6,"v":-1},{"r":31,"c":7,"v":-1},{"r":31,"c":8,"v":-1},
{"r":32,"c":0,"v":1},{"r":32,"c":1,"v":2},{"r":32,"c":2,"v":2},{"r":32,"c":3,"v":-2},{"r":32,"c":4,"v":-1.5},{"r":32,"c":5,"v":-1},{"r":32,"c":6,"v":0.5},{"r":32,"c":7,"v":-1},{"r":32,"c":8,"v":-1.5},
{"r":33,"c":0,"v":2},{"r":33,"c":1,"v":2},{"r":33,"c":2,"v":1.5},{"r":33,"c":3,"v":-2},{"r":33,"c":4,"v":-2},{"r":33,"c":5,"v":-2},{"r":33,"c":6,"v":-1},{"r":33,"c":7,"v":0},{"r":33,"c":8,"v":-0.5},
{"r":34,"c":0,"v":2},{"r":34,"c":1,"v":1},{"r":34,"c":2,"v":2},{"r":34,"c":3,"v":-1.5},{"r":34,"c":4,"v":-2},{"r":34,"c":5,"v":-1.5},{"r":34,"c":6,"v":-0.5},{"r":34,"c":7,"v":0.5},{"r":34,"c":8,"v":-1.5},
{"r":35,"c":0,"v":1.5},{"r":35,"c":1,"v":2},{"r":35,"c":2,"v":2},{"r":35,"c":3,"v":-2},{"r":35,"c":4,"v":-1.5},{"r":35,"c":5,"v":-2},{"r":35,"c":6,"v":0.5},{"r":35,"c":7,"v":-0.5},{"r":35,"c":8,"v":0.5},
{"r":36,"c":0,"v":2},{"r":36,"c":1,"v":2},{"r":36,"c":2,"v":1.5},{"r":36,"c":3,"v":-1},{"r":36,"c":4,"v":-0.5},{"r":36,"c":5,"v":-1.5},{"r":36,"c":6,"v":1},{"r":36,"c":7,"v":-0.5},{"r":36,"c":8,"v":-1},
{"r":37,"c":0,"v":2},{"r":37,"c":1,"v":2},{"r":37,"c":2,"v":1},{"r":37,"c":3,"v":-0.5},{"r":37,"c":4,"v":0},{"r":37,"c":5,"v":0.5},{"r":37,"c":6,"v":-1},{"r":37,"c":7,"v":-1.5},{"r":37,"c":8,"v":1},
{"r":38,"c":0,"v":1.5},{"r":38,"c":1,"v":2},{"r":38,"c":2,"v":2},{"r":38,"c":3,"v":-1},{"r":38,"c":4,"v":-0.5},{"r":38,"c":5,"v":0},{"r":38,"c":6,"v":-0.5},{"r":38,"c":7,"v":-2},{"r":38,"c":8,"v":0.5},
{"r":39,"c":0,"v":2},{"r":39,"c":1,"v":1.5},{"r":39,"c":2,"v":2},{"r":39,"c":3,"v":-2},{"r":39,"c":4,"v":-1.5},{"r":39,"c":5,"v":-1},{"r":39,"c":6,"v":0.5},{"r":39,"c":7,"v":-1},{"r":39,"c":8,"v":-1},
{"r":40,"c":0,"v":2},{"r":40,"c":1,"v":2},{"r":40,"c":2,"v":2},{"r":40,"c":3,"v":-2},{"r":40,"c":4,"v":-2},{"r":40,"c":5,"v":-1.5},{"r":40,"c":6,"v":-1},{"r":40,"c":7,"v":-0.5},{"r":40,"c":8,"v":0},
{"r":41,"c":0,"v":2},{"r":41,"c":1,"v":2},{"r":41,"c":2,"v":1.5},{"r":41,"c":3,"v":-1.5},{"r":41,"c":4,"v":-2},{"r":41,"c":5,"v":-2},{"r":41,"c":6,"v":-1.5},{"r":41,"c":7,"v":0.5},{"r":41,"c":8,"v":-0.5},
{"r":42,"c":0,"v":1.5},{"r":42,"c":1,"v":2},{"r":42,"c":2,"v":2},{"r":42,"c":3,"v":-2},{"r":42,"c":4,"v":-1},{"r":42,"c":5,"v":-0.5},{"r":42,"c":6,"v":0},{"r":42,"c":7,"v":-1},{"r":42,"c":8,"v":-2},
{"r":43,"c":0,"v":2},{"r":43,"c":1,"v":1},{"r":43,"c":2,"v":2},{"r":43,"c":3,"v":-1.5},{"r":43,"c":4,"v":0},{"r":43,"c":5,"v":-1},{"r":43,"c":6,"v":-1},{"r":43,"c":7,"v":-2},{"r":43,"c":8,"v":-1.5},
{"r":44,"c":0,"v":2},{"r":44,"c":1,"v":2},{"r":44,"c":2,"v":1},{"r":44,"c":3,"v":-2},{"r":44,"c":4,"v":-1.5},{"r":44,"c":5,"v":-1.5},{"r":44,"c":6,"v":-0.5},{"r":44,"c":7,"v":-1.5},{"r":44,"c":8,"v":-1},
{"r":45,"c":0,"v":2},{"r":45,"c":1,"v":2},{"r":45,"c":2,"v":2},{"r":45,"c":3,"v":-1},{"r":45,"c":4,"v":-2},{"r":45,"c":5,"v":-2},{"r":45,"c":6,"v":-1},{"r":45,"c":7,"v":0},{"r":45,"c":8,"v":-0.5},
{"r":46,"c":0,"v":1.5},{"r":46,"c":1,"v":1.5},{"r":46,"c":2,"v":2},{"r":46,"c":3,"v":-2},{"r":46,"c":4,"v":-2},{"r":46,"c":5,"v":-1.5},{"r":46,"c":6,"v":0.5},{"r":46,"c":7,"v":1},{"r":46,"c":8,"v":-2},
{"r":47,"c":0,"v":2},{"r":47,"c":1,"v":2},{"r":47,"c":2,"v":1.5},{"r":47,"c":3,"v":-2},{"r":47,"c":4,"v":-1},{"r":47,"c":5,"v":-2},{"r":47,"c":6,"v":-1.5},{"r":47,"c":7,"v":0.5},{"r":47,"c":8,"v":-1},
{"r":48,"c":0,"v":2},{"r":48,"c":1,"v":1},{"r":48,"c":2,"v":2},{"r":48,"c":3,"v":-1.5},{"r":48,"c":4,"v":-0.5},{"r":48,"c":5,"v":-1},{"r":48,"c":6,"v":-2},{"r":48,"c":7,"v":-1},{"r":48,"c":8,"v":0.5},
{"r":49,"c":0,"v":1},{"r":49,"c":1,"v":2},{"r":49,"c":2,"v":2},{"r":49,"c":3,"v":-2},{"r":49,"c":4,"v":-1.5},{"r":49,"c":5,"v":-2},{"r":49,"c":6,"v":-1.5},{"r":49,"c":7,"v":-2},{"r":49,"c":8,"v":-0.5},
{"r":50,"c":0,"v":2},{"r":50,"c":1,"v":2},{"r":50,"c":2,"v":1.5},{"r":50,"c":3,"v":-2},{"r":50,"c":4,"v":-2},{"r":50,"c":5,"v":-2},{"r":50,"c":6,"v":-1},{"r":50,"c":7,"v":-1},{"r":50,"c":8,"v":-1},
{"r":51,"c":0,"v":1.5},{"r":51,"c":1,"v":2},{"r":51,"c":2,"v":2},{"r":51,"c":3,"v":-1.5},{"r":51,"c":4,"v":-2},{"r":51,"c":5,"v":-1.5},{"r":51,"c":6,"v":0},{"r":51,"c":7,"v":1},{"r":51,"c":8,"v":0.5},
{"r":52,"c":0,"v":2},{"r":52,"c":1,"v":1.5},{"r":52,"c":2,"v":1},{"r":52,"c":3,"v":-2},{"r":52,"c":4,"v":-1.5},{"r":52,"c":5,"v":-1},{"r":52,"c":6,"v":0.5},{"r":52,"c":7,"v":0.5},{"r":52,"c":8,"v":1},
{"r":53,"c":0,"v":2},{"r":53,"c":1,"v":1},{"r":53,"c":2,"v":2},{"r":53,"c":3,"v":-2},{"r":53,"c":4,"v":-1},{"r":53,"c":5,"v":-1},{"r":53,"c":6,"v":-1},{"r":53,"c":7,"v":-1},{"r":53,"c":8,"v":1},
{"r":54,"c":0,"v":1.5},{"r":54,"c":1,"v":2},{"r":54,"c":2,"v":2},{"r":54,"c":3,"v":-2},{"r":54,"c":4,"v":-0.5},{"r":54,"c":5,"v":-1.5},{"r":54,"c":6,"v":-1.5},{"r":54,"c":7,"v":-2},{"r":54,"c":8,"v":1.5},
{"r":55,"c":0,"v":1.5},{"r":55,"c":1,"v":2},{"r":55,"c":2,"v":1.5},{"r":55,"c":3,"v":-2},{"r":55,"c":4,"v":-1},{"r":55,"c":5,"v":-2},{"r":55,"c":6,"v":-1},{"r":55,"c":7,"v":-2},{"r":55,"c":8,"v":0.5},
{"r":56,"c":0,"v":2},{"r":56,"c":1,"v":1.5},{"r":56,"c":2,"v":2},{"r":56,"c":3,"v":-2},{"r":56,"c":4,"v":-0.5},{"r":56,"c":5,"v":-1.5},{"r":56,"c":6,"v":-1},{"r":56,"c":7,"v":-0.5},{"r":56,"c":8,"v":-2},
{"r":57,"c":0,"v":1.5},{"r":57,"c":1,"v":1},{"r":57,"c":2,"v":2},{"r":57,"c":3,"v":-2},{"r":57,"c":4,"v":-0.5},{"r":57,"c":5,"v":-1},{"r":57,"c":6,"v":-1},{"r":57,"c":7,"v":0.5},{"r":57,"c":8,"v":-1.5},
{"r":58,"c":0,"v":2},{"r":58,"c":1,"v":2},{"r":58,"c":2,"v":1.5},{"r":58,"c":3,"v":-2},{"r":58,"c":4,"v":-1},{"r":58,"c":5,"v":-1.5},{"r":58,"c":6,"v":1},{"r":58,"c":7,"v":0},{"r":58,"c":8,"v":-1},
{"r":59,"c":0,"v":1.5},{"r":59,"c":1,"v":2},{"r":59,"c":2,"v":2},{"r":59,"c":3,"v":-2},{"r":59,"c":4,"v":-0.5},{"r":59,"c":5,"v":-2},{"r":59,"c":6,"v":0},{"r":59,"c":7,"v":-1.5},{"r":59,"c":8,"v":-1},
{"r":60,"c":0,"v":2},{"r":60,"c":1,"v":2},{"r":60,"c":2,"v":2},{"r":60,"c":3,"v":-1},{"r":60,"c":4,"v":-2},{"r":60,"c":5,"v":-2},{"r":60,"c":6,"v":0.5},{"r":60,"c":7,"v":0},{"r":60,"c":8,"v":0.5},
{"r":61,"c":0,"v":2},{"r":61,"c":1,"v":1.5},{"r":61,"c":2,"v":0.5},{"r":61,"c":3,"v":-1.5},{"r":61,"c":4,"v":-2},{"r":61,"c":5,"v":-2},{"r":61,"c":6,"v":0},{"r":61,"c":7,"v":-1.5},{"r":61,"c":8,"v":0},
{"r":62,"c":0,"v":2},{"r":62,"c":1,"v":2},{"r":62,"c":2,"v":1.5},{"r":62,"c":3,"v":-2},{"r":62,"c":4,"v":-1.5},{"r":62,"c":5,"v":-2},{"r":62,"c":6,"v":0.5},{"r":62,"c":7,"v":-1},{"r":62,"c":8,"v":0},
{"r":63,"c":0,"v":2},{"r":63,"c":1,"v":2},{"r":63,"c":2,"v":1.5},{"r":63,"c":3,"v":-2},{"r":63,"c":4,"v":-2},{"r":63,"c":5,"v":-2},{"r":63,"c":6,"v":-0.5},{"r":63,"c":7,"v":0.5},{"r":63,"c":8,"v":-0.5},
{"r":64,"c":0,"v":2},{"r":64,"c":1,"v":2},{"r":64,"c":2,"v":1},{"r":64,"c":3,"v":-2},{"r":64,"c":4,"v":-1.5},{"r":64,"c":5,"v":-2},{"r":64,"c":6,"v":0},{"r":64,"c":7,"v":0.5},{"r":64,"c":8,"v":-1.5},
{"r":65,"c":0,"v":2},{"r":65,"c":1,"v":2},{"r":65,"c":2,"v":1.5},{"r":65,"c":3,"v":-2},{"r":65,"c":4,"v":-2},{"r":65,"c":5,"v":-2},{"r":65,"c":6,"v":0.5},{"r":65,"c":7,"v":1},{"r":65,"c":8,"v":-1},
{"r":66,"c":0,"v":2},{"r":66,"c":1,"v":1},{"r":66,"c":2,"v":2},{"r":66,"c":3,"v":-2},{"r":66,"c":4,"v":-2},{"r":66,"c":5,"v":-2},{"r":66,"c":6,"v":-2},{"r":66,"c":7,"v":-1},{"r":66,"c":8,"v":-1.5},
{"r":67,"c":0,"v":2},{"r":67,"c":1,"v":2},{"r":67,"c":2,"v":2},{"r":67,"c":3,"v":-2},{"r":67,"c":4,"v":-2},{"r":67,"c":5,"v":-2},{"r":67,"c":6,"v":-2},{"r":67,"c":7,"v":-0.5},{"r":67,"c":8,"v":-1.5},
{"r":68,"c":0,"v":1.5},{"r":68,"c":1,"v":2},{"r":68,"c":2,"v":2},{"r":68,"c":3,"v":-2},{"r":68,"c":4,"v":-2},{"r":68,"c":5,"v":-2},{"r":68,"c":6,"v":-2},{"r":68,"c":7,"v":-1},{"r":68,"c":8,"v":-2},
{"r":69,"c":0,"v":2},{"r":69,"c":1,"v":2},{"r":69,"c":2,"v":2},{"r":69,"c":3,"v":-1.5},{"r":69,"c":4,"v":-2},{"r":69,"c":5,"v":-2},{"r":69,"c":6,"v":-1.5},{"r":69,"c":7,"v":-1},{"r":69,"c":8,"v":-0.5},
{"r":70,"c":0,"v":1},{"r":70,"c":1,"v":1.5},{"r":70,"c":2,"v":0.5},{"r":70,"c":3,"v":-2},{"r":70,"c":4,"v":-1.5},{"r":70,"c":5,"v":-1.5},{"r":70,"c":6,"v":0.5},{"r":70,"c":7,"v":1},{"r":70,"c":8,"v":-1},
{"r":71,"c":0,"v":1.5},{"r":71,"c":1,"v":1},{"r":71,"c":2,"v":1},{"r":71,"c":3,"v":-2},{"r":71,"c":4,"v":0},{"r":71,"c":5,"v":-2},{"r":71,"c":6,"v":-0.5},{"r":71,"c":7,"v":1},{"r":71,"c":8,"v":-0.5}]
},
"resolve":{"scale":{"x":"independent","y":"independent","color":"independent","fill":"independent","stroke":"independent"},"axis":{"x":"independent","y":"independent"},"legend":{"color":"independent","fill":"independent","stroke":"independent"}},
"layer":[
{"encoding":{"x":{"field":"x","type":"quantitative","scale":{"domain":[-2,4],"range":[147,557]},"axis":{"orient":"bottom","offset":-1124,"values":[-2,0,2,4],"domainWidth":3,"domainColor":"black","tickWidth":3,"tickColor":"black","tickSize":16,"labelFontSize":31,"labelPadding":6,"labelExpr":"replace(datum.label,'−','-')","title":"Leading dim 1 (75%)","titleFontSize":31,"titleX":353,"titleY":81}},
"y":{"field":"y","type":"quantitative","scale":{"domain":[-1,1.5],"range":[512,100]},"axis":{"orient":"left","offset":-147,"values":[-1,-0.5,0,0.5,1,1.5],"format":".1f","domainWidth":3,"domainColor":"black","tickWidth":3,"tickColor":"black","tickSize":17,"labelFontSize":31,"labelPadding":4,"labelExpr":"replace(datum.label,'−','-')","title":"Leading dim 2 (8%)","titleFontSize":31,"titleAngle":270,"titleX":-120,"titleY":332}}},
"layer":[
{"data":{"values":[{"x":-2,"x2":4,"y":1.5},{"x":4,"y":1.5,"y2":-1}]},"mark":{"type":"rule","strokeWidth":3,"color":"black"},"encoding":{"x2":{"field":"x2"},"y2":{"field":"y2"}}},
{"data":{"values":[{"c":"cDC1","x":2.62,"y":0.41},{"c":"cDC1","x":3.48,"y":-0.01},{"c":"cDC1","x":3.57,"y":-0.36},{"c":"p","x":-1.6,"y":1.1},{"c":"p","x":-1.4,"y":0.85},{"c":"p","x":-1.53,"y":0.71},{"c":"m","x":-1.72,"y":-0.92},{"c":"m","x":-1.57,"y":-0.87},{"c":"m","x":-1.62,"y":-0.93}]},"mark":{"type":"circle","size":230,"opacity":1,"stroke":"#444","strokeWidth":0.5},"encoding":{"color":{"field":"c","type":"nominal","scale":{"domain":["cDC1","p","m"],"range":["#CC85BE","#64BE7D","#4389CC"]},"legend":null}}},
{"data":{"values":[{"c":"cDC1","x":3.94,"y":1.3,"t":"cDC1"},{"c":"p","x":3.94,"y":1.02,"t":"cDC2 CD301b⁺"},{"c":"m","x":3.94,"y":0.76,"t":"cDC2 CD301b⁻"}]},"mark":{"type":"text","fontSize":40,"align":"right"},"encoding":{"text":{"field":"t"},"color":{"field":"c","type":"nominal","scale":{"domain":["cDC1","p","m"],"range":["#CC85BE","#64BE7D","#4389CC"]},"legend":null}}},
{"data":{"values":[{"x":-3.83,"y":1.96,"t":"a"}]},"mark":{"type":"text","fontSize":50,"color":"black"},"encoding":{"text":{"field":"t"}}}
]},
{"resolve":{"scale":{"fill":"independent"}},"encoding":{"x":{"field":"x","type":"quantitative","scale":{"domain":[0,1560],"range":[590,1110]},"axis":null},"y":{"field":"y","type":"quantitative","scale":{"domain":[0,1568],"range":[0,600]},"axis":null}},
"layer":[
{"data":{"values":[
{"c":"cDC1","x":1477,"y":480},{"c":"cDC1","x":1429,"y":625},{"c":"cDC1","x":1294,"y":749},{"c":"cDC1","x":1091,"y":831},{"c":"cDC1","x":852,"y":860},{"c":"cDC1","x":613,"y":831},{"c":"cDC1","x":410,"y":749},{"c":"cDC1","x":275,"y":625},{"c":"cDC1","x":227,"y":480},{"c":"cDC1","x":275,"y":335},{"c":"cDC1","x":410,"y":211},{"c":"cDC1","x":613,"y":129},{"c":"cDC1","x":852,"y":100},{"c":"cDC1","x":1091,"y":129},{"c":"cDC1","x":1294,"y":211},{"c":"cDC1","x":1429,"y":335},
{"c":"neg","x":195,"y":770},{"c":"neg","x":200,"y":710},{"c":"neg","x":225,"y":660},{"c":"neg","x":255,"y":630},{"c":"neg","x":300,"y":610},{"c":"neg","x":380,"y":600},{"c":"neg","x":500,"y":625},{"c":"neg","x":640,"y":690},{"c":"neg","x":760,"y":770},{"c":"neg","x":852,"y":850},{"c":"neg","x":940,"y":960},{"c":"neg","x":1000,"y":1090},{"c":"neg","x":1012,"y":1180},{"c":"neg","x":990,"y":1260},{"c":"neg","x":930,"y":1315},{"c":"neg","x":850,"y":1335},{"c":"neg","x":770,"y":1330},{"c":"neg","x":640,"y":1280},{"c":"neg","x":500,"y":1180},{"c":"neg","x":360,"y":1050},{"c":"neg","x":260,"y":920},{"c":"neg","x":210,"y":830},
{"c":"pos","x":1500,"y":770},{"c":"pos","x":1495,"y":720},{"c":"pos","x":1470,"y":680},{"c":"pos","x":1425,"y":640},{"c":"pos","x":1380,"y":620},{"c":"pos","x":1310,"y":612},{"c":"pos","x":1190,"y":630},{"c":"pos","x":1060,"y":690},{"c":"pos","x":950,"y":770},{"c":"pos","x":852,"y":855},{"c":"pos","x":770,"y":960},{"c":"pos","x":700,"y":1090},{"c":"pos","x":682,"y":1180},{"c":"pos","x":705,"y":1270},{"c":"pos","x":770,"y":1330},{"c":"pos","x":860,"y":1350},{"c":"pos","x":960,"y":1335},{"c":"pos","x":1090,"y":1280},{"c":"pos","x":1220,"y":1180},{"c":"pos","x":1350,"y":1050},{"c":"pos","x":1440,"y":920},{"c":"pos","x":1490,"y":830}]},
"mark":{"type":"line","interpolate":"cardinal-closed","order":null,"stroke":"#3a3a4a","strokeWidth":1},"encoding":{"fill":{"field":"c","type":"nominal","scale":{"domain":["cDC1","neg","pos"],"range":["#E4C3DC","#A0BBE2","#B7DFBC"]},"legend":null}}},
{"data":{"values":[
{"c":"a","x":272,"y":628},{"c":"a","x":320,"y":606},{"c":"a","x":380,"y":600},{"c":"a","x":500,"y":625},{"c":"a","x":640,"y":690},{"c":"a","x":760,"y":770},{"c":"a","x":852,"y":855},{"c":"a","x":700,"y":850},{"c":"a","x":560,"y":820},{"c":"a","x":470,"y":785},{"c":"a","x":410,"y":749},{"c":"a","x":330,"y":690},
{"c":"b","x":1420,"y":635},{"c":"b","x":1310,"y":612},{"c":"b","x":1190,"y":630},{"c":"b","x":1060,"y":690},{"c":"b","x":950,"y":770},{"c":"b","x":852,"y":855},{"c":"b","x":1000,"y":850},{"c":"b","x":1091,"y":831},{"c":"b","x":1200,"y":795},{"c":"b","x":1294,"y":749},{"c":"b","x":1375,"y":685},
{"c":"d","x":852,"y":855},{"c":"d","x":940,"y":960},{"c":"d","x":1000,"y":1090},{"c":"d","x":1012,"y":1180},{"c":"d","x":990,"y":1260},{"c":"d","x":930,"y":1315},{"c":"d","x":850,"y":1335},{"c":"d","x":770,"y":1330},{"c":"d","x":705,"y":1270},{"c":"d","x":682,"y":1180},{"c":"d","x":700,"y":1090},{"c":"d","x":770,"y":960}]},
"mark":{"type":"line","interpolate":"linear-closed","order":null,"stroke":"#2a4a6a","strokeWidth":1},"encoding":{"fill":{"field":"c","type":"nominal","scale":{"domain":["a","b","d"],"range":["#859DD0","#8FD1C0","#68C5E2"]},"legend":null}}},
{"data":{"values":[{"x":852,"y":360,"t":"885"},{"x":852,"y":443,"t":"(66%)"},{"x":448,"y":652,"t":"60"},{"x":525,"y":738,"t":"(4.5%)"},{"x":1237,"y":662,"t":"61"},{"x":1180,"y":745,"t":"(4.5%)"},{"x":512,"y":982,"t":"69"},{"x":513,"y":1068,"t":"(5.1%)"},{"x":1232,"y":982,"t":"75"},{"x":1230,"y":1068,"t":"(5.6%)"},{"x":843,"y":1145,"t":"191"},{"x":843,"y":1230,"t":"(14.2%)"},{"x":842,"y":60,"t":"cDC1"},{"x":433,"y":1380,"t":"cDC2"},{"x":425,"y":1468,"t":"CD301b⁻"},{"x":1247,"y":1375,"t":"cDC2"},{"x":1240,"y":1465,"t":"CD301b⁺"}]},"mark":{"type":"text","fontSize":29,"color":"black"},"encoding":{"text":{"field":"t"}}},
{"data":{"values":[{"x":50,"y":55,"t":"b"}]},"mark":{"type":"text","fontSize":50,"color":"black"},"encoding":{"text":{"field":"t"}}}
]},
{"data":{"values":[{"x":"cDC1 alone","y":885},{"x":"cDC2 CD301b+ and CD301b⁻","y":191},{"x":"cDC2 CD301b+ alone","y":75},{"x":"cDC2 CD301b⁻ alone","y":69},{"x":"cDC1 and cDC2 CD301b+","y":61},{"x":"cDC1 and cDC2 CD301b⁻","y":60},{"x":"All groups","y":0}]},
"mark":{"type":"bar","stroke":"#666666","strokeWidth":1.2},
"encoding":{"x":{"field":"x","type":"nominal","sort":null,"scale":{"range":[1244,1578],"paddingInner":0.353,"paddingOuter":0.36},"axis":{"orient":"bottom","offset":-1241,"domainColor":"#555","domainWidth":2,"tickColor":"#555","tickWidth":2,"tickSize":11,"labelFontSize":29,"labelAngle":-45,"labelAlign":"right","labelBaseline":"middle","labelPadding":4,"labelLimit":1000,"title":null}},
"y":{"field":"y","type":"quantitative","stack":null,"scale":{"domain":[0,1000],"range":[395,93]},"axis":{"orient":"right","offset":-522,"values":[0,200,400,600,800,1000],"format":"d","domainColor":"#555","domainWidth":2,"tickColor":"#555","tickWidth":2,"tickSize":13,"labelFontSize":28,"labelPadding":3,"title":"DEG overlap","titleFontSize":28,"titleAngle":270,"titleX":107,"titleY":237}},
"color":{"field":"x","type":"nominal","sort":null,"scale":{"range":["#E4C3DC","#A8DEEC","#C8E6D8","#BEDDF3","#BFE6D8","#BCCBE8","#FFFFFF"]},"legend":null}}},
{"data":{"name":"heat"},"mark":{"type":"rect"},
"encoding":{"x":{"field":"c","type":"ordinal","scale":{"range":[1784,2073],"paddingInner":0,"paddingOuter":0},"axis":null},"y":{"field":"r","type":"ordinal","scale":{"range":[78,1461],"paddingInner":0,"paddingOuter":0},"axis":null},
"color":{"field":"v","type":"quantitative","scale":{"domain":[-2,0,2],"range":["#3B4FA0","#FFFFFF","#EE2A20"],"interpolate":"rgb"},"legend":{"orient":"none","legendX":1782,"legendY":1580,"direction":"horizontal","gradientLength":297,"gradientThickness":19,"gradientStrokeColor":"black","gradientStrokeWidth":4,"title":null,"labelOpacity":0,"tickCount":2}}}},
{"encoding":{"x":{"field":"x","type":"quantitative","scale":{"domain":[0,9],"range":[1784,2073]},"axis":null},"y":{"field":"y","type":"quantitative","scale":{"domain":[0,72],"range":[78,1461]},"axis":null}},
"layer":[
{"data":{"values":[{"x":-0.08,"x2":9.08,"y":-0.15,"y2":72.15}]},"mark":{"type":"rect","fill":"transparent","stroke":"black","strokeWidth":5},"encoding":{"x2":{"field":"x2"},"y2":{"field":"y2"}}},
{"data":{"values":[{"x":-0.47,"x2":-0.22,"y":-0.37,"y2":72.3},{"x":0.09,"x2":2.83,"y":72.3,"y2":72.65},{"x":3.15,"x2":5.89,"y":72.3,"y2":72.65},{"x":6.2,"x2":8.94,"y":72.3,"y2":72.65}]},"mark":{"type":"rect","color":"black"},"encoding":{"x2":{"field":"x2"},"y2":{"field":"y2"}}},
{"data":{"values":[{"x":1.34,"y":73.65,"t":"cDC1"},{"x":4.49,"y":73.65,"t":"CD301b⁻"},{"x":4.49,"y":75.05,"t":"cDC2"},{"x":7.88,"y":73.65,"t":"CD301b⁺"},{"x":7.88,"y":75.05,"t":"cDC2"}]},"mark":{"type":"text","fontSize":25,"color":"black"},"encoding":{"text":{"field":"t"}}},
{"data":{"values":[{"x":1.12,"y":80.26,"t":"row min"},{"x":8,"y":80.26,"t":"row max"}]},"mark":{"type":"text","fontSize":30,"color":"black"},"encoding":{"text":{"field":"t"}}},
{"data":{"values":[{"x":-1.15,"y":34.2,"t":"Total Unique Genes"}]},"mark":{"type":"text","fontSize":28,"angle":270,"color":"black"},"encoding":{"text":{"field":"t"}}},
{"data":{"values":[{"x":-1.18,"y":-2.5,"t":"c"}]},"mark":{"type":"text","fontSize":50,"color":"black"},"encoding":{"text":{"field":"t"}}}
]},
{"resolve":{"scale":{"fill":"independent"}},
"encoding":{"x":{"field":"x","type":"quantitative","scale":{"domain":[-13.64,12.52],"range":[78,1106]},"axis":{"orient":"bottom","offset":-144,"values":[-10,-5,0,5,10],"domainColor":"#222","domainWidth":1.5,"tickColor":"#222","tickWidth":1.5,"tickSize":6,"labelFontSize":28,"labelPadding":6,"labelExpr":"replace(datum.label,'−','-')","title":"UMAP_1","titleFontSize":29,"titleX":619,"titleY":76}},
"y":{"field":"y","type":"quantitative","scale":{"domain":[-12.59,14.23],"range":[1492,855]},"axis":{"orient":"left","offset":-78,"values":[-10,-5,0,5,10],"domainColor":"#222","domainWidth":1.5,"tickColor":"#222","tickWidth":1.5,"tickSize":6,"labelFontSize":28,"labelPadding":4,"labelExpr":"replace(datum.label,'−','-')","title":"UMAP_2","titleFontSize":29,"titleAngle":270,"titleX":-62,"titleY":1178}}},
"layer":[
{"data":{"name":"regions"},"mark":{"type":"line","interpolate":"cardinal-closed","order":null,"strokeWidth":1.8,"strokeDash":[4,2]},"encoding":{"fill":{"field":"c","type":"nominal","scale":{"domain":["T","NK","DC1","mDC2","mDC1","pDC","DC2","Mono","Gran","B"],"range":["#F9D0E3","#D0D8E4","#F9C4C6","#FEF0C8","#F3E2D8","#C2C2C2","#C6CEDF","#C9E6D7","#F2F2F2","#C8E8F5"]},"legend":null},"stroke":{"field":"c","type":"nominal","scale":{"domain":["T","NK","DC1","mDC2","mDC1","pDC","DC2","Mono","Gran","B"],"range":["#EE2A8B","#2B4B8F","#ED1C24","#FDB813","#C0561B","#111111","#1A2A66","#0FA958","#BBBBBB","#29ABE2"]},"legend":null}}},
{"data":{"name":"core"},"mark":{"type":"line","interpolate":"cardinal-closed","order":null,"strokeWidth":0},"encoding":{"detail":{"field":"p"},"fill":{"field":"c","type":"nominal","scale":{"domain":["T","NK","DC1","mDC2","mDC1","pDC","DC2","Mono","Gran","B"],"range":["#CBA0B9","#9AA4B4","#C98F90","#CABD8F","#BFAFA4","#8F8F8F","#8F97AE","#90B8A4","#BBBBBB","#95B4C2"]},"legend":null}}},
{"data":{"name":"cells"},"mark":{"type":"point","filled":true,"shape":"diamond","size":60,"opacity":1},"encoding":{"fill":{"field":"c","type":"nominal","scale":{"domain":["T","NK","DC1","mDC2","mDC1","pDC","DC2","Mono","Gran","B"],"range":["#CBA0B9","#9AA4B4","#C98F90","#CABD8F","#BFAFA4","#8F8F8F","#8F97AE","#90B8A4","#BBBBBB","#95B4C2"]},"legend":null}}},
{"data":{"values":[{"c":"T","x":-11.1,"y":7.31,"t":"T cells"},{"c":"NK","x":-6.98,"y":6.76,"t":"NK cells"},{"c":"DC1","x":-2.7,"y":8.48,"t":"DC1"},{"c":"mDC1","x":-4.41,"y":-0.62,"t":"mDC1"},{"c":"mDC2","x":-3.93,"y":-5.46,"t":"mDC2"},{"c":"B","x":-5.91,"y":-8.92,"t":"B cells"},{"c":"Gran","x":9.99,"y":13.42,"t":"Granulocytes"},{"c":"Mono","x":9.09,"y":4.3,"t":"Monocytes/"},{"c":"Mono","x":9.47,"y":3.31,"t":"Macrophages"},{"c":"DC2","x":6.1,"y":-6.81,"t":"DC2"},{"c":"pDC","x":5.14,"y":-10.65,"t":"pDC"}]},"mark":{"type":"text","fontSize":29},"encoding":{"text":{"field":"t"},"color":{"field":"c","type":"nominal","scale":{"domain":["T","NK","DC1","mDC2","mDC1","pDC","DC2","Mono","Gran","B"],"range":["#EE2A8B","#2B4B8F","#ED1C24","#FDB813","#C0561B","#111111","#1A2A66","#0FA958","#8C8C8C","#29ABE2"]},"legend":null}}},
{"data":{"values":[{"x":-0.97,"y":15.5,"t":"Thymic CD11c⁺ and CD11b⁺ cells"}]},"mark":{"type":"text","fontSize":29,"color":"black"},"encoding":{"text":{"field":"t"}}},
{"data":{"values":[{"x":-15,"y":19.07,"t":"d"}]},"mark":{"type":"text","fontSize":50,"color":"black"},"encoding":{"text":{"field":"t"}}}
]},
{"encoding":{"x":{"field":"x","type":"quantitative","scale":{"domain":[-14.24,13.09],"range":[1236,1687]},"axis":{"orient":"bottom","offset":-548,"values":[-10,-5,0,5,10],"domainColor":"#888","domainWidth":2,"tickColor":"#888","tickSize":4,"labelFontSize":27,"labelPadding":4,"labelExpr":"replace(datum.label,'−','-')","title":"UMAP_1","titleFontSize":29,"titleX":1469,"titleY":53}},
"y":{"field":"y","type":"quantitative","scale":{"domain":[-13.3,15.36],"range":[1088,767]},"axis":{"orient":"left","offset":-1236,"values":[-10,-5,0,5,10,15],"domainColor":"#888","domainWidth":2,"tickColor":"#888","tickSize":3,"labelFontSize":27,"labelPadding":4,"labelExpr":"replace(datum.label,'−','-')","title":"UMAP_2","titleFontSize":29,"titleAngle":270,"titleX":-45,"titleY":903}}},
"layer":[
{"data":{"name":"core"},"transform":[{"joinaggregate":[{"op":"max","field":"s","as":"sv"}],"groupby":["p"]}],"mark":{"type":"line","interpolate":"cardinal-closed","order":null,"strokeWidth":0},"encoding":{"detail":{"field":"p"},"fill":{"field":"sv","type":"quantitative","scale":{"domain":[-0.16,1,2,3,4.26],"range":["#F7E91A","#E8BC86","#BE7FB6","#7C58A8","#3B50A0"],"interpolate":"rgb"},"legend":null}}},
{"data":{"name":"cells"},"mark":{"type":"circle","size":30,"opacity":1,"color":"#F7E91A"}},
{"data":{"name":"cells"},"transform":[{"filter":"datum.s>0"}],"mark":{"type":"circle","size":30,"opacity":1},"encoding":{"fill":{"field":"s","type":"quantitative","scale":{"domain":[-0.16,1,2,3,4.26],"range":["#F7E91A","#E8BC86","#BE7FB6","#7C58A8","#3B50A0"],"interpolate":"rgb"},"legend":null}}},
{"data":{"name":"regions"},"transform":[{"filter":"datum.c!='DC2'&&datum.c!='mDC2'"}],"mark":{"type":"line","interpolate":"cardinal-closed","order":null,"strokeWidth":1.3,"strokeDash":[2,2]},"encoding":{"stroke":{"field":"c","type":"nominal","scale":{"domain":["T","NK","DC1","mDC2","mDC1","pDC","DC2","Mono","Gran","B"],"range":["#EE2A8B","#2B4B8F","#ED1C24","#FDB813","#C0561B","#111111","#1A2A66","#0FA958","#999999","#29ABE2"]},"legend":null}}},
{"data":{"name":"regions"},"transform":[{"filter":"datum.c=='DC2'||datum.c=='mDC2'"}],"mark":{"type":"line","interpolate":"cardinal-closed","order":null,"strokeWidth":2.6,"strokeDash":[7,3]},"encoding":{"stroke":{"field":"c","type":"nominal","scale":{"domain":["T","NK","DC1","mDC2","mDC1","pDC","DC2","Mono","Gran","B"],"range":["#EE2A8B","#2B4B8F","#ED1C24","#FDB813","#C0561B","#111111","#1A2A66","#0FA958","#999999","#29ABE2"]},"legend":null}}},
{"data":{"values":[{"x":-1,"y":13.5,"t":"Sirpα"}]},"mark":{"type":"text","fontSize":30,"fontStyle":"italic","color":"black"},"encoding":{"text":{"field":"t"}}},
{"data":{"values":[{"x":-21.6,"y":17.8,"t":"e"}]},"mark":{"type":"text","fontSize":50,"color":"black"},"encoding":{"text":{"field":"t"}}}
]},
{"encoding":{"x":{"field":"x","type":"quantitative","scale":{"domain":[-14.13,13.15],"range":[1236,1682]},"axis":{"orient":"bottom","offset":-134,"values":[-10,-5,0,5,10],"domainColor":"#888","domainWidth":2,"tickColor":"#888","tickSize":4,"labelFontSize":27,"labelPadding":4,"labelExpr":"replace(datum.label,'−','-')","title":"UMAP_1","titleFontSize":29,"titleX":1469,"titleY":51}},
"y":{"field":"y","type":"quantitative","scale":{"domain":[-13.27,15.3],"range":[1502,1179]},"axis":{"orient":"left","offset":-1236,"values":[-10,-5,0,5,10,15],"domainColor":"#888","domainWidth":2,"tickColor":"#888","tickSize":3,"labelFontSize":27,"labelPadding":4,"labelExpr":"replace(datum.label,'−','-')","title":"UMAP_2","titleFontSize":29,"titleAngle":270,"titleX":-45,"titleY":1317}}},
"layer":[
{"data":{"name":"core"},"transform":[{"joinaggregate":[{"op":"max","field":"m","as":"mv"}],"groupby":["p"]}],"mark":{"type":"line","interpolate":"cardinal-closed","order":null,"strokeWidth":0},"encoding":{"detail":{"field":"p"},"fill":{"field":"mv","type":"quantitative","scale":{"domain":[-0.16,1,2,3,4.26],"range":["#F7E91A","#E8BC86","#BE7FB6","#7C58A8","#3B50A0"],"interpolate":"rgb"},"legend":{"orient":"none","legendX":1496,"legendY":1577,"direction":"horizontal","gradientLength":186,"gradientThickness":24,"title":null,"values":[0,1,2,3,4],"labelFontSize":27,"labelOffset":7,"labelColor":"black","gradientStrokeWidth":0}}}},
{"data":{"name":"cells"},"mark":{"type":"circle","size":30,"opacity":1,"color":"#F7E91A"}},
{"data":{"name":"cells"},"transform":[{"filter":"datum.m>0"}],"mark":{"type":"circle","size":30,"opacity":1},"encoding":{"fill":{"field":"m","type":"quantitative","scale":{"domain":[-0.16,1,2,3,4.26],"range":["#F7E91A","#E8BC86","#BE7FB6","#7C58A8","#3B50A0"],"interpolate":"rgb"},"legend":{"orient":"none","legendX":1496,"legendY":1577,"direction":"horizontal","gradientLength":186,"gradientThickness":24,"title":null,"values":[0,1,2,3,4],"labelFontSize":27,"labelOffset":7,"labelColor":"black","gradientStrokeWidth":0}}}},
{"data":{"name":"regions"},"transform":[{"filter":"datum.c!='DC2'&&datum.c!='mDC2'"}],"mark":{"type":"line","interpolate":"cardinal-closed","order":null,"strokeWidth":1.3,"strokeDash":[2,2]},"encoding":{"stroke":{"field":"c","type":"nominal","scale":{"domain":["T","NK","DC1","mDC2","mDC1","pDC","DC2","Mono","Gran","B"],"range":["#EE2A8B","#2B4B8F","#ED1C24","#FDB813","#C0561B","#111111","#1A2A66","#0FA958","#999999","#29ABE2"]},"legend":null}}},
{"data":{"name":"regions"},"transform":[{"filter":"datum.c=='DC2'||datum.c=='mDC2'"}],"mark":{"type":"line","interpolate":"cardinal-closed","order":null,"strokeWidth":2.6,"strokeDash":[7,3]},"encoding":{"stroke":{"field":"c","type":"nominal","scale":{"domain":["T","NK","DC1","mDC2","mDC1","pDC","DC2","Mono","Gran","B"],"range":["#EE2A8B","#2B4B8F","#ED1C24","#FDB813","#C0561B","#111111","#1A2A66","#0FA958","#999999","#29ABE2"]},"legend":null}}},
{"data":{"values":[{"x":-0.8,"y":13.2,"t":"Mgl2"}]},"mark":{"type":"text","fontSize":30,"fontStyle":"italic","color":"black"},"encoding":{"text":{"field":"t"}}}
]}
]}
